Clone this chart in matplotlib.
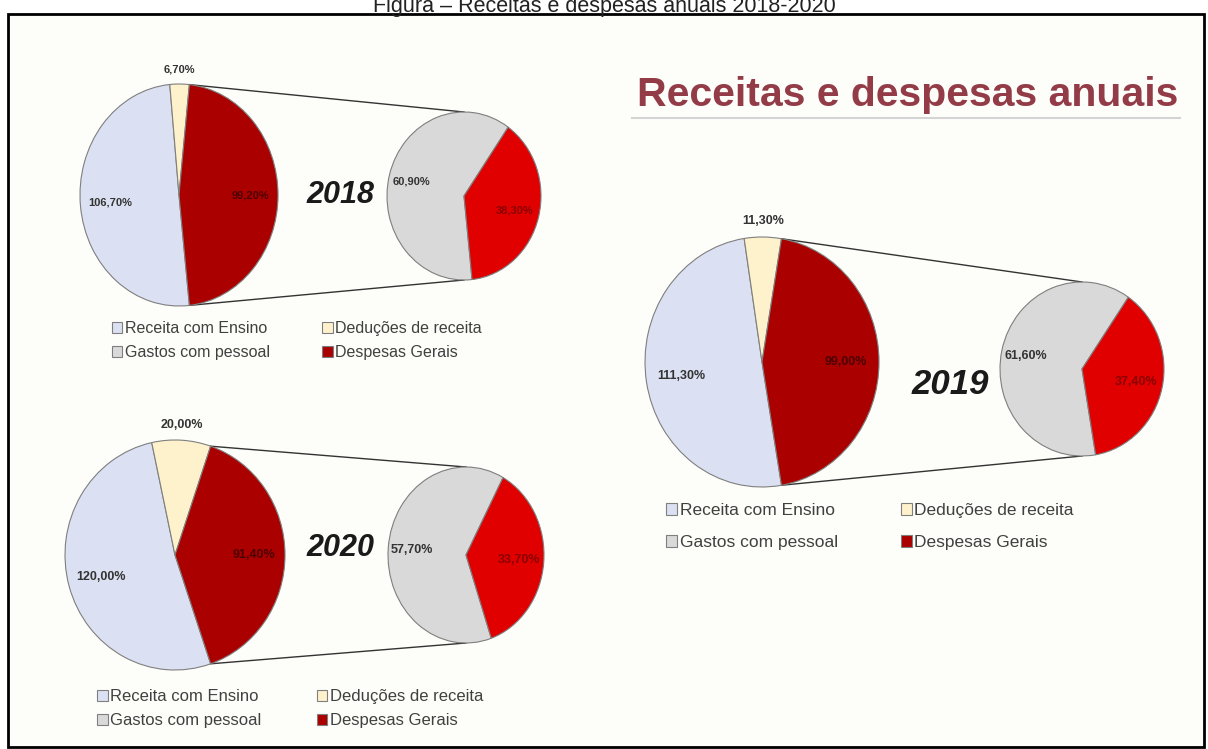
import numpy as np
import matplotlib
matplotlib.use("Agg")
import matplotlib.pyplot as plt
from matplotlib.patches import Rectangle

plt.rcParams["font.family"] = ["Liberation Sans", "DejaVu Sans"]

W, H = 1208, 749

# data
years = ["2018", "2019", "2020"]
receita = [106.70, 111.30, 120.00]
deducoes = [6.70, 11.30, 20.00]
despesas = [99.20, 99.00, 91.40]
pessoal = [60.90, 61.60, 57.70]
gerais = [38.30, 37.40, 33.70]
categorias = ["Receita com Ensino", "Deduções de receita",
              "Gastos com pessoal", "Despesas Gerais"]

C_REC = "#dbe1f2"
C_DED = "#fef2cc"
C_DESP = "#aa0000"
C_PES = "#d9d9d9"
C_GER = "#e00000"

# layout per panel (pixels): main pie, sub pie, year text, legend
panels = [
    dict(main=(179, 195, 99, 111), sub=(464, 196, 77, 84), year=(340, 195, 22),
         leg=(112, 321, 11.5, 0.55, 3.3), lab=8),
    dict(main=(762, 362, 117, 125), sub=(1082, 369, 82, 87), year=(950, 385, 25),
         leg=(666, 503, 12.5, 1.0, 3.6), lab=9),
    dict(main=(175, 555, 110, 115), sub=(466, 555, 78, 88), year=(340, 548, 22),
         leg=(97, 689, 12, 0.55, 3.3), lab=9),
]


def fmt(v):
    return f"{v:.2f}%".replace(".", ",")


fig = plt.figure(figsize=(W / 100, H / 100), dpi=100)
fig.patch.set_facecolor("white")

base = fig.add_axes([0, 0, 1, 1])
base.set_xlim(0, W)
base.set_ylim(H, 0)
base.axis("off")
base.add_patch(Rectangle((8, 14), 1196, 733, fc="#fdfdf9", ec="black", lw=2))
base.text(604, 12, "Figura – Receitas e despesas anuais 2018-2020", ha="center",
          va="baseline", fontsize=15.5, color="#222222")

base.text(637, 106, "Receitas e despesas anuais", fontsize=29.5, fontweight="bold",
          color="#933c48", va="baseline", ha="left")
base.plot([632, 1180], [118, 118], color="#d4d4d4", lw=1.5)

PAD = 1.2


def pie_axes(cx, cy, rx, ry):
    ax = fig.add_axes([(cx - rx * PAD) / W, 1 - (cy + ry * PAD) / H,
                       2 * rx * PAD / W, 2 * ry * PAD / H])
    return ax


def draw_pie(ax, vals, colors, start):
    wedges, _ = ax.pie(vals, colors=colors, startangle=start, counterclock=False,
                       wedgeprops=dict(edgecolor="#7f7f7f", linewidth=0.8))
    ax.set_aspect("auto")
    ax.set_xlim(-PAD, PAD)
    ax.set_ylim(-PAD, PAD)
    ax.axis("off")
    return wedges


def label(ax, w, text, r, size, color):
    mid = np.deg2rad((w.theta1 + w.theta2) / 2)
    ax.text(r * np.cos(mid), r * np.sin(mid), text, ha="center", va="center",
            fontsize=size, fontweight="bold", color=color)


for i, p in enumerate(panels):
    cx, cy, rx, ry = p["main"]
    sx, sy, srx, sry = p["sub"]
    total = receita[i] + deducoes[i] + despesas[i]
    red_deg = despesas[i] / total * 360

    ax1 = pie_axes(cx, cy, rx, ry)
    wm = draw_pie(ax1, [receita[i], deducoes[i], despesas[i]],
                  [C_REC, C_DED, C_DESP], -red_deg / 2)
    label(ax1, wm[0], fmt(receita[i]), 0.7, p["lab"], "#333333")
    label(ax1, wm[1], fmt(deducoes[i]), 1.13, p["lab"], "#333333")
    label(ax1, wm[2], fmt(despesas[i]), 0.72, p["lab"], "#4d0000")

    ax2 = pie_axes(sx, sy, srx, sry)
    ws = draw_pie(ax2, [pessoal[i], gerais[i]], [C_PES, C_GER], -red_deg / 2)
    label(ax2, ws[0], fmt(pessoal[i]), 0.7, p["lab"], "#333333")
    label(ax2, ws[1], fmt(gerais[i]), 0.68, p["lab"], "#8a0000")

    # connector lines between the red slice and the second pie
    t_top = np.deg2rad(wm[2].theta2)
    t_bot = np.deg2rad(wm[2].theta1)
    base.plot([cx + rx * np.cos(t_top), sx], [cy - ry * np.sin(t_top), sy - sry],
              color="#333333", lw=1)
    base.plot([cx + rx * np.cos(t_bot), sx], [cy - ry * np.sin(t_bot), sy + sry],
              color="#333333", lw=1)

    yx, yy, ys = p["year"]
    base.text(yx, yy, years[i], ha="center", va="center", fontsize=ys,
              fontweight="bold", fontstyle="italic", color="#1a1a1a")

    lx, ly, lfs, lsp, csp = p["leg"]
    fig.legend([wm[0], ws[0], wm[1], wm[2]],
               [categorias[0], categorias[2], categorias[1], categorias[3]],
               ncol=2, loc="upper left", bbox_to_anchor=(lx, ly),
               bbox_transform=base.transData, frameon=False, fontsize=lfs,
               labelcolor="#404040", handlelength=0.65, handleheight=0.65,
               handletextpad=0.15, columnspacing=csp, labelspacing=lsp,
               borderpad=0, borderaxespad=0)

fig.savefig("out.png", dpi=100, facecolor="white")
